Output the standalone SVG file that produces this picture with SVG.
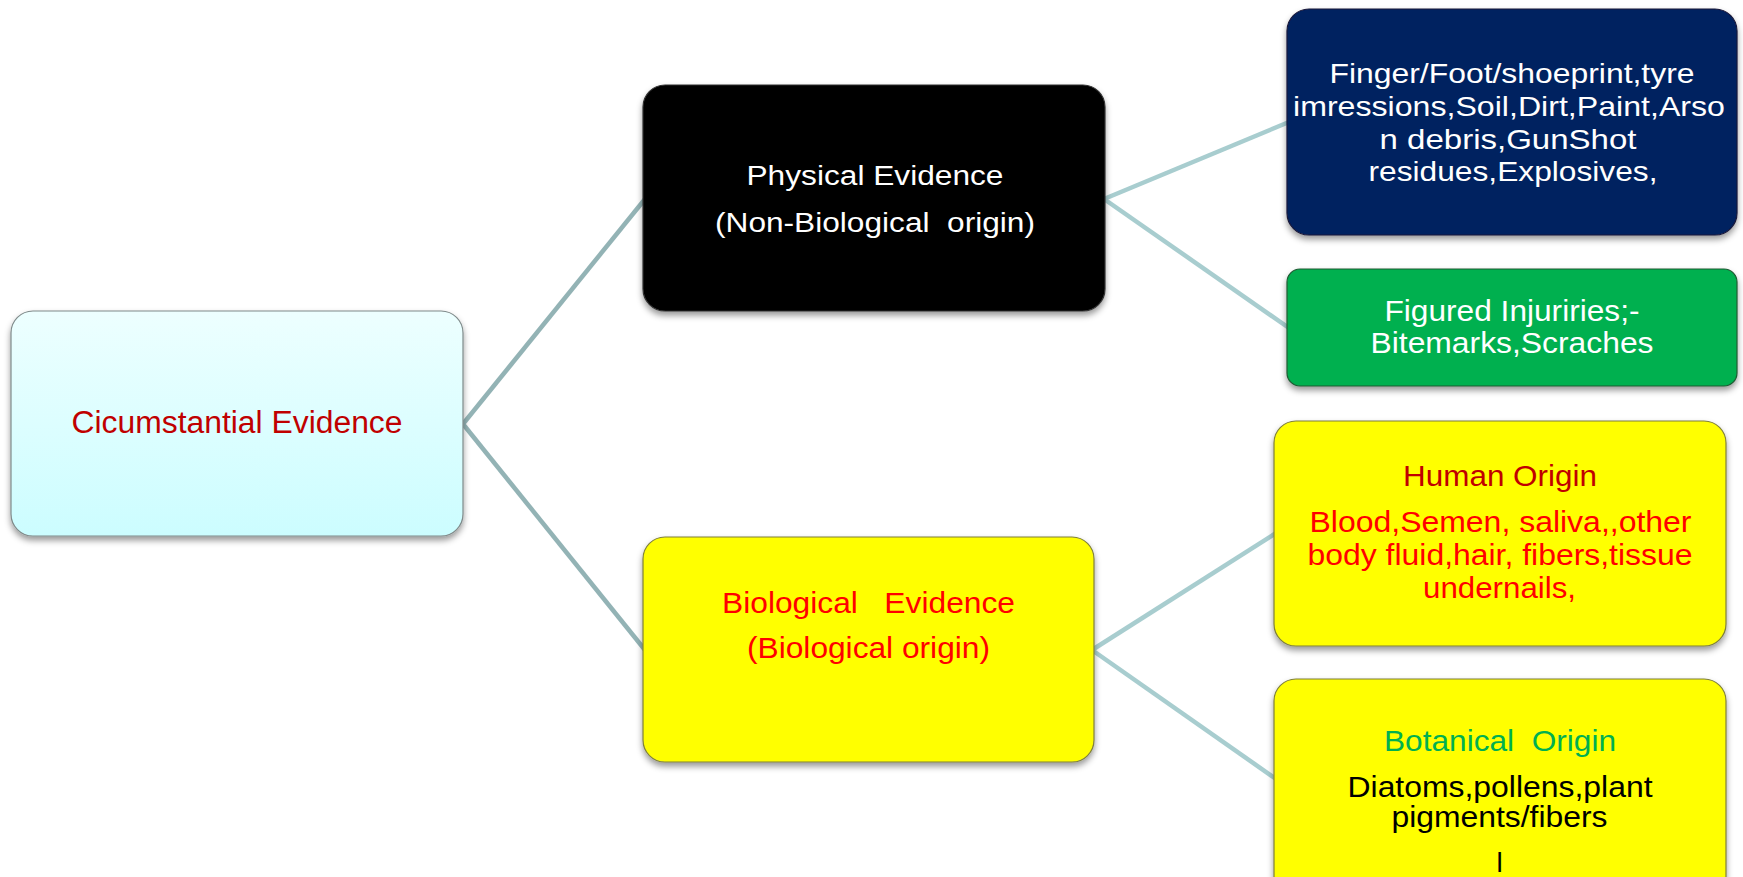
<svg xmlns="http://www.w3.org/2000/svg" width="1743" height="877" viewBox="0 0 1743 877">
  <defs>
    <linearGradient id="rootGrad" x1="0" y1="0" x2="0" y2="1">
      <stop offset="0" stop-color="#EDFFFF"/>
      <stop offset="1" stop-color="#CCFDFF"/>
    </linearGradient>
    <filter id="shadow" x="-10%" y="-10%" width="120%" height="130%">
      <feDropShadow dx="0" dy="4" stdDeviation="3" flood-color="#000" flood-opacity="0.4"/>
    </filter>
  </defs>
  <style>
    .box { filter: url(#shadow); stroke-width: 1.2; }
    .t { font-family: "Liberation Sans", Arial, sans-serif; text-anchor: middle; }
    .c1 { stroke: #93B3B5; stroke-width: 4.5; fill: none; }
    .c2 { stroke: #A8CDCF; stroke-width: 4.5; fill: none; }
  </style>
  <rect width="1743" height="877" fill="#FFFFFF"/>
  <g id="connectors">
    <line class="c1" x1="463" y1="424" x2="645" y2="199"/>
    <line class="c1" x1="463" y1="424" x2="645" y2="650"/>
    <line class="c2" x1="1104" y1="199" x2="1289" y2="122"/>
    <line class="c2" x1="1104" y1="199" x2="1289" y2="328"/>
    <line class="c2" x1="1092" y1="650" x2="1276" y2="533"/>
    <line class="c2" x1="1092" y1="650" x2="1276" y2="779"/>
  </g>
  <g id="root">
    <rect class="box" x="11" y="311" width="452" height="225" rx="22" fill="url(#rootGrad)" stroke="#7F8A8A"/>
    <text class="t" x="237" y="433" font-size="31" fill="#C00000" textLength="331" lengthAdjust="spacingAndGlyphs">Cicumstantial Evidence</text>
  </g>
  <g id="physical">
    <rect class="box" x="643" y="85" width="462" height="226" rx="22" fill="#000000" stroke="#333"/>
    <text class="t" x="875" y="185" font-size="27" fill="#FFFFFF" textLength="257" lengthAdjust="spacingAndGlyphs">Physical Evidence</text>
    <text class="t" x="875" y="232" font-size="27" fill="#FFFFFF" textLength="320" lengthAdjust="spacingAndGlyphs" xml:space="preserve">(Non-Biological  origin)</text>
  </g>
  <g id="biological">
    <rect class="box" x="643" y="537" width="451" height="225" rx="22" fill="#FFFF00" stroke="#7F7F3A"/>
    <text class="t" x="868.5" y="613" font-size="29" fill="#FF0000" textLength="293" lengthAdjust="spacingAndGlyphs" xml:space="preserve">Biological   Evidence</text>
    <text class="t" x="868.5" y="658" font-size="29" fill="#FF0000" textLength="243" lengthAdjust="spacingAndGlyphs">(Biological origin)</text>
  </g>
  <g id="nonbio-items">
    <rect class="box" x="1287" y="9" width="450" height="226" rx="22" fill="#002060" stroke="#1a1a3a"/>
    <text class="t" x="1512" y="83" font-size="28" fill="#FFFFFF" textLength="365" lengthAdjust="spacingAndGlyphs">Finger/Foot/shoeprint,tyre</text>
    <text class="t" x="1509" y="116" font-size="28" fill="#FFFFFF" textLength="432" lengthAdjust="spacingAndGlyphs">imressions,Soil,Dirt,Paint,Arso</text>
    <text class="t" x="1508" y="149" font-size="28" fill="#FFFFFF" textLength="257" lengthAdjust="spacingAndGlyphs">n debris,GunShot</text>
    <text class="t" x="1513" y="181" font-size="28" fill="#FFFFFF" textLength="289" lengthAdjust="spacingAndGlyphs">residues,Explosives,</text>
  </g>
  <g id="injuries">
    <rect class="box" x="1287" y="269" width="450" height="117" rx="13" fill="#00B050" stroke="#1f5a33"/>
    <text class="t" x="1512" y="321" font-size="29" fill="#FFFFFF" textLength="255" lengthAdjust="spacingAndGlyphs">Figured Injuriries;-</text>
    <text class="t" x="1512" y="353" font-size="29" fill="#FFFFFF" textLength="283" lengthAdjust="spacingAndGlyphs">Bitemarks,Scraches</text>
  </g>
  <g id="human">
    <rect class="box" x="1274" y="421" width="452" height="225" rx="22" fill="#FFFF00" stroke="#7F7F3A"/>
    <text class="t" x="1500" y="486" font-size="29" fill="#C00000" textLength="194" lengthAdjust="spacingAndGlyphs">Human Origin</text>
    <text class="t" x="1500.5" y="532" font-size="29" fill="#FF0000" textLength="382" lengthAdjust="spacingAndGlyphs">Blood,Semen, saliva,,other</text>
    <text class="t" x="1500" y="565" font-size="29" fill="#FF0000" textLength="385" lengthAdjust="spacingAndGlyphs">body fluid,hair, fibers,tissue</text>
    <text class="t" x="1499.5" y="598" font-size="29" fill="#FF0000" textLength="153" lengthAdjust="spacingAndGlyphs">undernails,</text>
  </g>
  <g id="botanical">
    <rect class="box" x="1274" y="679" width="452" height="225" rx="22" fill="#FFFF00" stroke="#7F7F3A"/>
    <text class="t" x="1500" y="751" font-size="29" fill="#00B050" textLength="232" lengthAdjust="spacingAndGlyphs" xml:space="preserve">Botanical  Origin</text>
    <text class="t" x="1500" y="797" font-size="29" fill="#000000" textLength="305" lengthAdjust="spacingAndGlyphs">Diatoms,pollens,plant</text>
    <text class="t" x="1499.5" y="827" font-size="29" fill="#000000" textLength="216" lengthAdjust="spacingAndGlyphs">pigments/fibers</text>
    <text class="t" x="1499.5" y="872" font-size="28" fill="#000000">l</text>
  </g>
</svg>
